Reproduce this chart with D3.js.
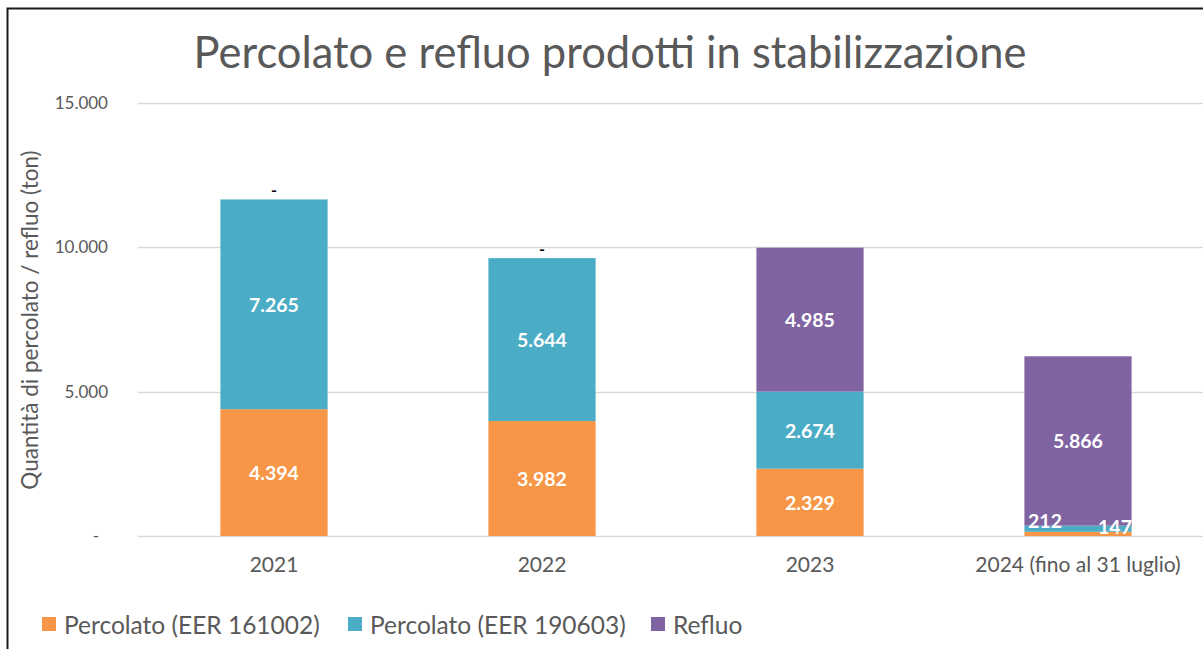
<!DOCTYPE html>
<html>
<head>
<meta charset="utf-8">
<script src="https://cdn.jsdelivr.net/npm/d3@7"></script>
<style>
  html, body { margin: 0; padding: 0; background: #fff; }
  svg { display: block; }
  text { font-family: Lato, "Open Sans", sans-serif; }
</style>
</head>
<body>
<svg id="chart" width="1203" height="649"></svg>
<script>
// ---- data ----
const categories = ["2021", "2022", "2023", "2024 (fino al 31 luglio)"];
const seriesNames = ["Percolato (EER 161002)", "Percolato (EER 190603)", "Refluo"];
const percolato161002 = [4394, 3982, 2329, 147];
const percolato190603 = [7265, 5644, 2674, 212];
const refluo = [0, 0, 4985, 5866];
const yTicks = [0, 5000, 10000, 15000];
const colors = ["#F79646", "#4BACC6", "#8064A2"];

const W = 1203, H = 649;
const svg = d3.select("#chart");

// frame (left and top border only visible in crop)
svg.append("path")
  .attr("d", `M7.5,${H} L7.5,8.5 L${W},8.5`)
  .attr("fill", "none").attr("stroke", "#1a1a1a").attr("stroke-width", 2);

const plot = { left: 140, right: 1212, top: 103, bottom: 536 };

const x = d3.scaleBand().domain(categories)
  .range([plot.left, plot.right]).paddingInner(0.6).paddingOuter(0.3);
const y = d3.scaleLinear().domain([0, 15000]).range([plot.bottom, plot.top]);

// title
svg.append("text")
  .attr("x", 610).attr("y", 68)
  .attr("text-anchor", "middle")
  .attr("font-size", 43.5).attr("fill", "#595959")
  .text("Percolato e refluo prodotti in stabilizzazione");

// gridlines
svg.append("g").selectAll("line").data(yTicks).join("line")
  .attr("x1", 138).attr("x2", W)
  .attr("y1", d => Math.round(y(d)) + 0.5).attr("y2", d => Math.round(y(d)) + 0.5)
  .attr("stroke", "#D9D9D9").attr("stroke-width", 1.5);

// y axis labels
const fmt = d => d === 0 ? "-" : d3.format(",")(d).replace(/,/g, ".");
const yAxis = d3.axisLeft(y).tickValues(yTicks).tickFormat(fmt).tickSize(0).tickPadding(0);
const yg = svg.append("g").attr("transform", "translate(108,0)").call(yAxis);
yg.select(".domain").remove();
yg.selectAll("text")
  .attr("font-family", "Lato, 'Open Sans', sans-serif")
  .attr("font-size", 17).attr("fill", "#595959")
  .attr("dx", d => d === 0 ? -9 : 0);

// y axis title
svg.append("text")
  .attr("transform", "translate(38,320) rotate(-90)")
  .attr("text-anchor", "middle")
  .attr("font-size", 22.5).attr("fill", "#595959")
  .text("Quantità di percolato / refluo (ton)");

// stacked data
const rows = categories.map((c, i) => ({
  cat: c, s0: percolato161002[i], s1: percolato190603[i], s2: refluo[i]
}));
const stack = d3.stack().keys(["s0", "s1", "s2"]);
const stacked = stack(rows);

const bars = svg.append("g");
stacked.forEach((layer, li) => {
  bars.append("g").attr("fill", colors[li])
    .selectAll("rect").data(layer).join("rect")
    .attr("x", d => x(d.data.cat))
    .attr("width", x.bandwidth())
    .attr("y", d => y(d[1]))
    .attr("height", d => y(d[0]) - y(d[1]));
});

// value labels
const labelDx = [[0, 0, 0, 37], [0, 0, 0, -33], [0, 0, 0, 0]];
const labelDy = [[0, 0, 0, -7], [0, 0, 0, -8], [0, 0, 0, 0]];
const fmtVal = v => d3.format(",")(v).replace(/,/g, ".");
const labels = svg.append("g");
stacked.forEach((layer, li) => {
  layer.forEach((d, i) => {
    const v = d[1] - d[0];
    const cx = x(d.data.cat) + x.bandwidth() / 2;
    if (v === 0) {
      labels.append("text")
        .attr("x", cx).attr("y", y(d[1]) - 10)
        .attr("text-anchor", "middle").attr("dominant-baseline", "central")
        .attr("font-size", 16).attr("font-weight", "bold").attr("fill", "#000")
        .text("-");
    } else {
      labels.append("text")
        .attr("x", cx + labelDx[li][i])
        .attr("y", (y(d[0]) + y(d[1])) / 2 + labelDy[li][i])
        .attr("text-anchor", "middle").attr("dominant-baseline", "central")
        .attr("font-size", 19.5).attr("font-weight", "bold").attr("fill", "#fff")
        .text(fmtVal(v));
    }
  });
});

// x axis labels
const xAxis = d3.axisBottom(x).tickSize(0).tickPadding(0);
const xg = svg.append("g").attr("transform", `translate(0,${plot.bottom + 21})`).call(xAxis);
xg.select(".domain").remove();
xg.selectAll("text")
  .attr("font-family", "Lato, 'Open Sans', sans-serif")
  .attr("font-size", 21).attr("fill", "#595959")
  .attr("dy", "0.71em");

// legend
const legendX = [42, 348, 651];
const lg = svg.append("g");
seriesNames.forEach((n, i) => {
  lg.append("rect").attr("x", legendX[i]).attr("y", 617).attr("width", 14).attr("height", 14)
    .attr("fill", colors[i]);
  lg.append("text").attr("x", legendX[i] + 22).attr("y", 624)
    .attr("dominant-baseline", "central")
    .attr("font-size", 24.5).attr("fill", "#595959").text(n);
});
</script>
</body>
</html>
